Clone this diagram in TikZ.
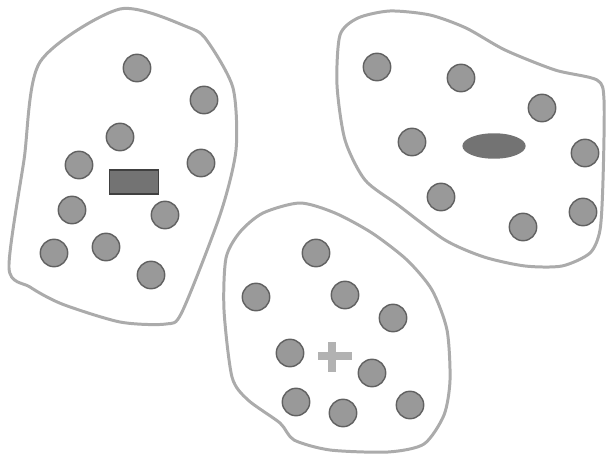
\documentclass[tikz,border=0pt]{standalone}
\usetikzlibrary{shapes.geometric}
\begin{document}
\begin{tikzpicture}[x=0.02cm, y=-0.02cm,
  blob/.style={draw=black!33, line width=1.7pt, line join=round},
  dot/.style={circle, draw=black!62, fill=black!40, line width=0.8pt,
              minimum size=15.6pt, inner sep=0pt}]

\useasboundingbox (0,0) rectangle (607,455);

%==== (1) left group: rectangle ====
\draw[blob] plot[smooth cycle, tension=0.45] coordinates {
  (40,62) (120,9) (190,28) (208,42) (233,88) (236,150) (220,215)
  (182,312) (166,324) (120,322) (62,304) (30,287) (9,268) (24,160)};
\foreach \p [count=\i] in {(137,68),(204,100),(120,137),(79,165),(201,163),
                          (72,210),(165,215),(54,253),(106,247),(151,275)}
  \node[dot] (l\i) at \p {};
\node[rectangle, draw=black!75, fill=black!55, line width=0.8pt,
      minimum width=28pt, minimum height=13.6pt, inner sep=0pt] (bar) at (134,182) {};

%==== (2) right group: ellipse ====
\draw[blob] plot[smooth cycle, tension=0.45] coordinates {
  (340,35) (358,18) (390,11) (430,15) (466,28) (505,50) (555,70)
  (597,80) (604,100) (603,180) (600,230) (590,253) (562,266) (525,266)
  (484,257) (445,240) (398,205) (365,180) (345,140) (337,85)};
\foreach \p [count=\i] in {(377,67),(461,78),(542,108),(412,142),(585,153),
                          (441,197),(523,227),(583,212)}
  \node[dot] (r\i) at \p {};
\node[ellipse, fill=black!55, minimum width=36pt, minimum height=14.5pt,
      inner sep=0pt] (oval) at (494,146) {};

%==== (3) middle group: plus ====
\draw[blob] plot[smooth cycle, tension=0.45] coordinates {
  (263,213) (300,203) (335,213) (372,233) (407,260) (432,290) (447,330)
  (450,380) (444,415) (424,444) (388,452) (330,450) (294,440) (280,423)
  (248,400) (232,377) (224,310) (226,258) (240,232)};
\foreach \p [count=\i] in {(316,253),(256,297),(345,295),(393,318),(290,353),
                          (372,373),(296,402),(343,413),(410,405)}
  \node[dot] (m\i) at \p {};
% plus sign
\draw[black!30, line width=4.5pt] (318,356) -- (352,356);
\draw[black!30, line width=4.5pt] (332,342) -- (332,372);

\end{tikzpicture}
\end{document}
